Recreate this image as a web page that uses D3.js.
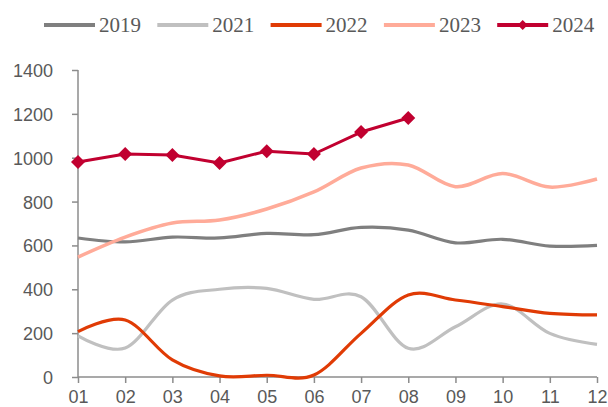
<!DOCTYPE html>
<html>
<head>
	<meta charset="UTF-8">
	<title>monthly lines</title>
	<style>
html, body {
	margin:0;padding:0;background:#fff;
}
.axis text {
	font-family: "Liberation Sans", Arial, sans-serif;
	font-size: 18px;
	fill: #595959;
}
.legend text {
	font-family: "Liberation Serif", "Times New Roman", serif;
	font-size: 21px;
	fill: #595959;
}
	</style>
	<script src="https://cdnjs.cloudflare.com/ajax/libs/d3/7.8.5/d3.min.js"></script>
</head>
<body>
<script>
const months = ['01','02','03','04','05','06','07','08','09','10','11','12'];
const yTicks = [0, 200, 400, 600, 800, 1000, 1200, 1400];

const v2019 = [634, 616, 638, 634, 655, 649, 682, 670, 612, 628, 597, 600];
const v2021 = [188, 132, 351, 400, 404, 354, 366, 131, 229, 333, 199, 149];
const v2022 = [207, 260, 78, 5, 8, 9, 199, 374, 351, 321, 290, 283];
const v2023 = [547, 638, 702, 716, 766, 844, 953, 967, 868, 928, 866, 903];
const v2024 = [980, 1017, 1012, 976, 1030, 1017, 1117, 1181];

const series = [
	{name: '2019', values: v2019, color: '#7f7f7f', width: 3.2},
	{name: '2021', values: v2021, color: '#c0c0c0', width: 3.2},
	{name: '2022', values: v2022, color: '#e03b05', width: 3.2},
	{name: '2023', values: v2023, color: '#ffab99', width: 3.5},
	{name: '2024', values: v2024, color: '#c10030', width: 3, marker: true}
];

const W = 608, H = 407;
const svg = d3.select(document.body).append('svg').attr('width', W).attr('height', H);

const x = d3.scalePoint().domain(months).range([78, 597]);
const y = d3.scaleLinear().domain([0, 1400]).range([377, 70]);

// axes
const axisColor = '#8c8c8c';
const gy = svg.append('g').attr('class', 'axis').attr('transform', 'translate(78,0)')
	.call(d3.axisLeft(y).tickValues(yTicks).tickFormat(d3.format('d')).tickSize(6).tickPadding(19));
const gx = svg.append('g').attr('class', 'axis').attr('transform', 'translate(0,377)')
	.call(d3.axisBottom(x).tickSize(6).tickPadding(7));
[gx, gy].forEach(g => {
	g.select('.domain').attr('stroke', axisColor).attr('stroke-width', 1.5);
	g.selectAll('.tick line').attr('stroke', axisColor).attr('stroke-width', 1.5);
});
gy.select('.domain').attr('d', 'M0,70V377');
gx.select('.domain').attr('d', 'M78,0H597');
gy.selectAll('.tick text').attr('dy', '0.36em');
gx.selectAll('.tick text').attr('dy', '0.71em');

// lines
const smooth = d3.line().x((d, i) => x(months[i])).y(d => y(d)).curve(d3.curveCardinal.tension(0));
const straight = d3.line().x((d, i) => x(months[i])).y(d => y(d));
const diamond = r => `M0,${-r}L${r},0L0,${r}L${-r},0Z`;

series.forEach(s => {
	svg.append('path')
		.attr('d', (s.marker ? straight : smooth)(s.values))
		.attr('fill', 'none')
		.attr('stroke', s.color)
		.attr('stroke-width', s.width)
		.attr('stroke-linejoin', 'round');
	if (s.marker) {
		svg.append('g').selectAll('path').data(s.values).enter().append('path')
			.attr('d', diamond(7))
			.attr('transform', (d, i) => `translate(${x(months[i])},${y(d)})`)
			.attr('fill', s.color);
	}
});

// legend
const legend = svg.append('g').attr('class', 'legend');
const item = legend.selectAll('g').data(series).enter().append('g')
	.attr('transform', (d, i) => `translate(${44 + i * 113.3},25)`);
item.append('line')
	.attr('x1', 0).attr('x2', 51)
	.attr('stroke', d => d.color)
	.attr('stroke-width', 4);
item.filter(d => d.marker).append('path')
	.attr('d', diamond(5))
	.attr('transform', 'translate(25.5,0)')
	.attr('fill', d => d.color);
item.append('text')
	.attr('x', 55)
	.attr('dy', '0.33em')
	.text(d => d.name);
</script>
</body>
</html>
